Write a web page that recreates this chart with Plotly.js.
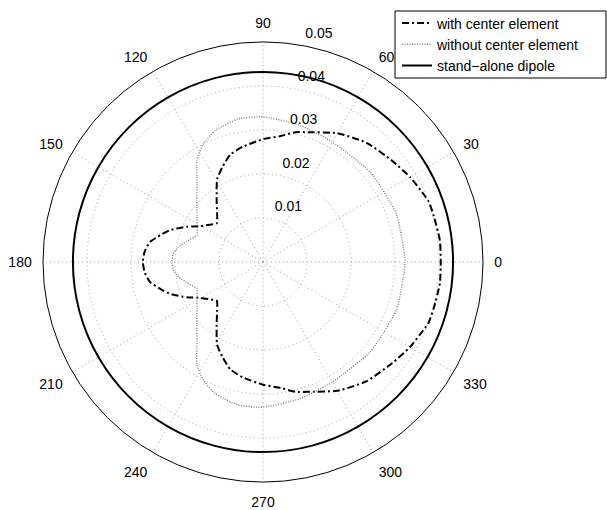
<!DOCTYPE html>
<html>
<head>
<meta charset="utf-8">
<script src="https://cdn.plot.ly/plotly-3.0.1.min.js"></script>
<style>html,body{margin:0;padding:0;background:#fff;}#chart{width:607px;height:510px;}</style>
</head>
<body>
<div id="chart"></div>
<script>
// ---- data ----
var withTheta = [0,7,15,20,23,30,38,49,60,71,76,82,90,100,107,113,119,127,133,140,145,150,155,161,165,170,175,180,
                 185,190,195,199,205,210,215,220,227,233,241,247,253,260,270,278,284,289,300,311,322,330,337,340,345,353,360];
var withR = [0.0404,0.0405,0.0402,0.0401,0.0396,0.0386,0.0373,0.0359,0.0338,0.0312,0.0304,0.0289,0.0279,0.0266,0.0255,0.0235,0.0215,0.0175,0.0153,0.0137,0.0148,0.0163,0.0190,0.0223,0.0240,0.0261,0.0270,0.0273,
             0.0270,0.0261,0.0240,0.0223,0.0190,0.0163,0.0148,0.0137,0.0153,0.0175,0.0215,0.0235,0.0255,0.0266,0.0279,0.0289,0.0304,0.0312,0.0338,0.0359,0.0373,0.0386,0.0396,0.0401,0.0402,0.0405,0.0404];

var withoutTheta = [0,20,40,60,75,90,100,110,117,123,130,137,145,152,158,165,170,175,180,
                    185,190,195,202,208,215,223,230,237,243,250,260,270,285,300,320,340,360];
var withoutR = [0.0323,0.0322,0.0318,0.0315,0.0322,0.0330,0.0330,0.0318,0.0300,0.0276,0.0233,0.0206,0.0183,0.0170,0.0162,0.0180,0.0195,0.0205,0.0207,
                0.0205,0.0195,0.0180,0.0162,0.0170,0.0183,0.0206,0.0233,0.0276,0.0300,0.0318,0.0330,0.0330,0.0322,0.0315,0.0318,0.0322,0.0323];

var dipoleTheta = [0,15,30,45,60,75,90,105,120,135,150,165,180,195,210,225,240,255,270,285,300,315,330,345,360];
var dipoleR = [0.0432,0.0432,0.0432,0.0432,0.0432,0.0432,0.0432,0.0432,0.0432,0.0432,0.0432,0.0432,0.0432,
               0.0432,0.0432,0.0432,0.0432,0.0432,0.0432,0.0432,0.0432,0.0432,0.0432,0.0432,0.0432];

var seriesNames = ['with center element', 'without center element', 'stand\u2212alone dipole'];

var angleTicks = [0,30,60,90,120,150,180,210,240,270,300,330];
var angleLabels = ['0','30','60','90','120','150','180','210','240','270','300','330'];
var radialTicks = [0.01,0.02,0.03,0.04,0.05];
var radialLabels = ['0.01','0.02','0.03','0.04','0.05'];
var radialMax = 0.05;
var radialLabelAngle = 80;

// ---- chart ----
var FONT = 'Liberation Sans, Arial, Helvetica, sans-serif';
var W = 607, H = 510, cx = 263, cy = 262, R = 220;

var traces = [
  {type:'scatterpolar', mode:'lines', name:seriesNames[0], r:withR, theta:withTheta,
   line:{color:'#000', width:2, dash:'7px,3px,2px,3px', shape:'spline', smoothing:0.5}},
  {type:'scatterpolar', mode:'lines', name:seriesNames[1], r:withoutR, theta:withoutTheta,
   line:{color:'#808080', width:1.4, dash:'1px,1.5px', shape:'spline', smoothing:0.5}},
  {type:'scatterpolar', mode:'lines', name:seriesNames[2], r:dipoleR, theta:dipoleTheta,
   line:{color:'#000', width:2, shape:'spline'}},
  {type:'scatterpolar', mode:'markers+text', showlegend:false, hoverinfo:'skip',
   r:radialTicks, theta:radialTicks.map(function(){return radialLabelAngle;}),
   marker:{size:5, color:'rgba(0,0,0,0)'},
   text:radialLabels, textposition:'top right', cliponaxis:false,
   textfont:{family:FONT, size:14, color:'#000'}}
];

var layout = {
  width:W, height:H,
  margin:{l:0, r:0, t:0, b:0},
  paper_bgcolor:'#fff',
  font:{family:FONT, size:14, color:'#000'},
  showlegend:true,
  legend:{x:397/W, y:1-7.5/H, xanchor:'left', yanchor:'top',
          bgcolor:'rgba(0,0,0,0)', borderwidth:0,
          font:{family:FONT, size:14, color:'#000'}, tracegroupgap:0},
  shapes:[{type:'rect', xref:'paper', yref:'paper', layer:'below',
           x0:395/W, x1:606/W, y0:1-78/H, y1:1-11/H,
           line:{color:'#000', width:1}, fillcolor:'#fff'}],
  polar:{
    domain:{x:[(cx-R)/W,(cx+R)/W], y:[(H-cy-R)/H,(H-cy+R)/H]},
    bgcolor:'rgba(0,0,0,0)',
    radialaxis:{range:[0,radialMax], tickvals:radialTicks, showticklabels:false, ticks:'',
                showline:false, showgrid:true, gridcolor:'#a0a0a0', gridwidth:1, griddash:'1px,3px'},
    angularaxis:{direction:'counterclockwise', rotation:0, tickmode:'array',
                 tickvals:angleTicks, ticktext:angleLabels,
                 ticks:'outside', ticklen:8, tickcolor:'rgba(0,0,0,0)',
                 showline:true, linecolor:'#000', linewidth:1,
                 showgrid:true, gridcolor:'#a0a0a0', gridwidth:1, griddash:'1px,3px',
                 tickfont:{family:FONT, size:14, color:'#000'}}
  }
};

Plotly.newPlot('chart', traces, layout, {staticPlot:true, displayModeBar:false});
</script>
</body>
</html>
